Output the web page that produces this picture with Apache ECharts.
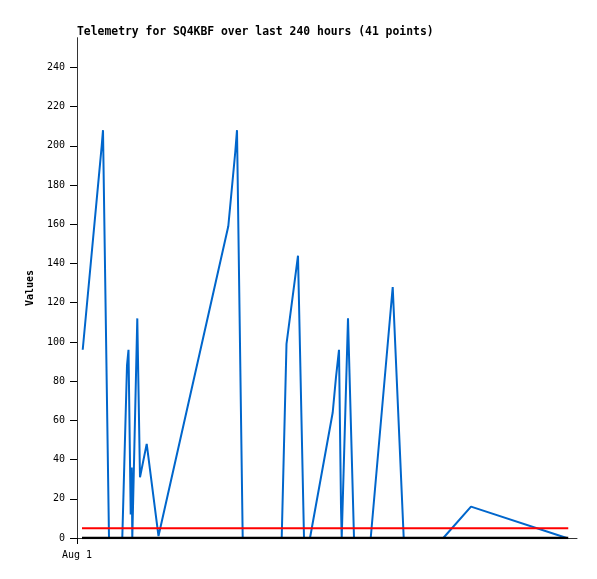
<!DOCTYPE html>
<html>
<head>
<meta charset="utf-8">
<script src="https://cdn.jsdelivr.net/npm/echarts@6/dist/echarts.min.js"></script>
<style>
html,body{margin:0;padding:0;background:#fff;}
#c{width:597px;height:579px;}
</style>
</head>
<body>
<div id="c"></div>
<script>
// Hours since start of "Aug 1" (x-axis spans 240 hours)
var telemetryHours = [2.74, 11.86, 12.48, 15.36, 21.74, 24.0, 24.72, 25.78, 26.26, 26.54,
  28.94, 30.24, 33.46, 39.12, 72.62, 75.98, 76.8, 79.54, 98.26, 100.56,
  106.08, 108.96, 111.84, 122.74, 124.32, 125.76, 126.72, 127.06, 130.08, 132.96,
  140.98, 151.54, 156.82, 175.82, 189.12, 235.06];
var telemetryValues = [96, 200, 208, 0, 0, 88, 96, 12, 36, 0,
  112, 31, 48, 1, 159, 197, 208, 0, 0, 99,
  144, 0, 0, 64, 82, 96, 16, 0, 112, 0,
  0, 128, 0, 0, 16, 0];
var thresholdHours = [2.4, 235.8];
var thresholdValues = [5, 5];
var baselineHours = [2.4, 235.8];
var baselineValues = [0, 0];
var yTickValues = [0, 20, 40, 60, 80, 100, 120, 140, 160, 180, 200, 220, 240];
var xTickValues = [0];
var xTickLabels = ['Aug 1'];
var titleText = 'Telemetry for SQ4KBF over last 240 hours (41 points)';
var yAxisName = 'Values';

function pairs(xs, ys){ return xs.map(function(x,i){ return [x, ys[i]]; }); }

var mono = 'DejaVu Sans Mono';
var chart = echarts.init(document.getElementById('c'), null, {renderer:'canvas'});
chart.setOption({
  animation: false,
  backgroundColor: '#ffffff',
  title: {
    text: titleText, left: 72, top: 22,
    textStyle: {fontFamily: mono, fontSize: 11.4, fontWeight: 'bold', color: '#000'}
  },
  grid: {left: 77, right: 20, top: 38, bottom: 41},
  xAxis: [{
    type: 'value', min: 0, max: 240, interval: 240,
    axisLine: {show: false},
    splitLine: {show: false},
    axisTick: {show: true, length: 6, customValues: xTickValues, lineStyle: {color: '#000', width: 1}},
    axisLabel: {
      customValues: xTickValues, margin: 12,
      formatter: function(v){ var i = xTickValues.indexOf(v); return i >= 0 ? xTickLabels[i] : ''; },
      fontFamily: mono, fontSize: 10, color: '#000'
    }
  }, {
    type: 'value', position: 'top', min: 0, max: 240,
    axisLine: {show: true, lineStyle: {color: '#333', width: 1}},
    axisTick: {show: false}, axisLabel: {show: false}, splitLine: {show: false}
  }],
  yAxis: [{
    type: 'value', min: 0, max: 255,
    name: yAxisName, nameLocation: 'middle', nameGap: 42, nameRotate: 90,
    nameTextStyle: {fontFamily: mono, fontSize: 10, fontWeight: 'bold', color: '#000'},
    axisLine: {show: true, lineStyle: {color: '#000', width: 1}},
    axisTick: {show: true, length: 7, customValues: yTickValues, lineStyle: {color: '#000', width: 1}},
    axisLabel: {customValues: yTickValues, margin: 12, fontFamily: mono, fontSize: 10, color: '#000'},
    splitLine: {show: false}
  }, {
    type: 'value', position: 'right', min: 0, max: 255,
    axisLine: {show: true, lineStyle: {color: '#333', width: 1}},
    axisTick: {show: false}, axisLabel: {show: false}, splitLine: {show: false}
  }],
  series: [{
    type: 'line', data: pairs(telemetryHours, telemetryValues),
    showSymbol: false, symbol: 'none',
    lineStyle: {color: '#0066cc', width: 2}, z: 2
  }, {
    type: 'line', data: pairs(thresholdHours, thresholdValues),
    showSymbol: false, symbol: 'none',
    lineStyle: {color: '#ff0000', width: 2}, z: 3
  }, {
    type: 'line', data: pairs(baselineHours, baselineValues),
    showSymbol: false, symbol: 'none',
    lineStyle: {color: '#000000', width: 2.5}, z: 4
  }]
});
</script>
</body>
</html>
